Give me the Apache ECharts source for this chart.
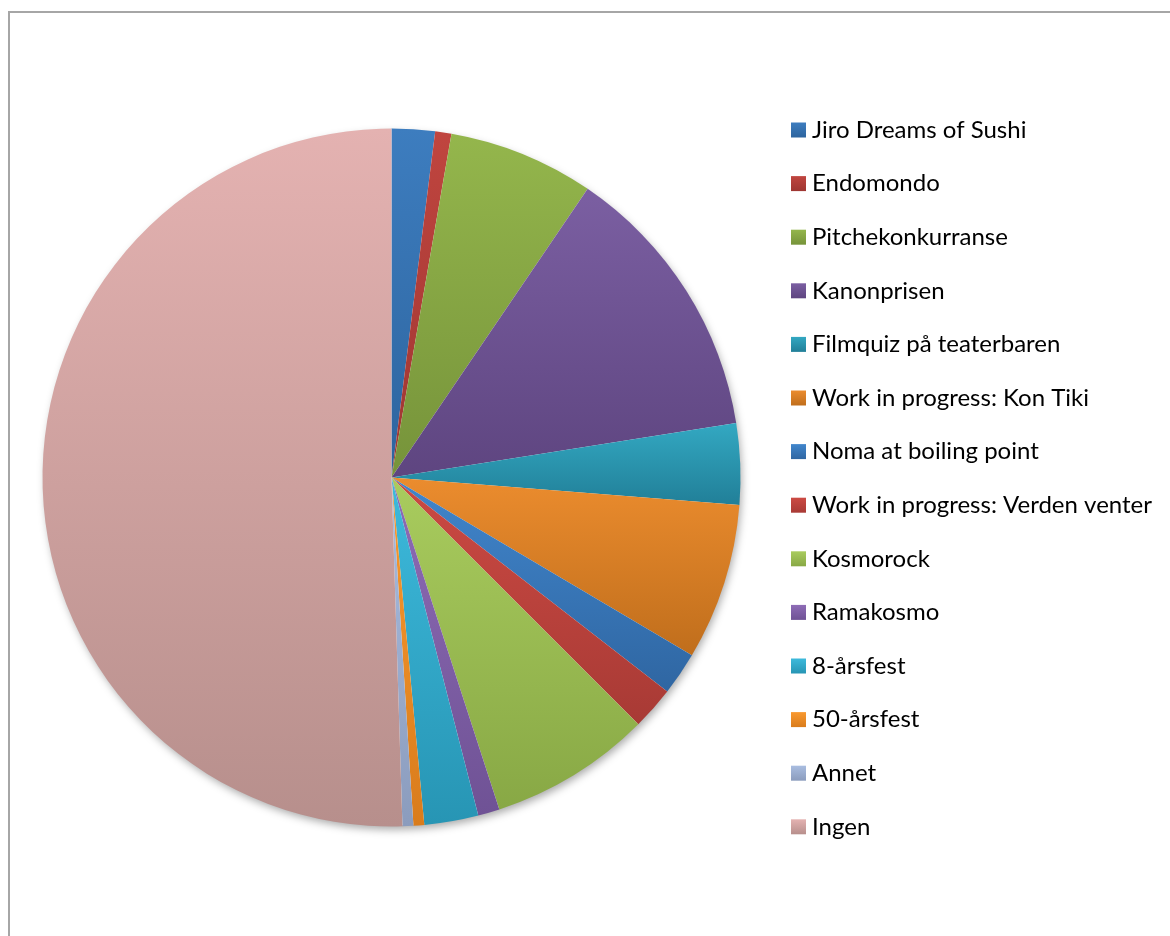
<!DOCTYPE html>
<html>
<head>
<meta charset="utf-8">
<script src="https://cdn.jsdelivr.net/npm/echarts@6/dist/echarts.min.js"></script>
<style>
  html, body { margin: 0; padding: 0; background: #ffffff; }
  #chart { width: 1170px; height: 936px; }
</style>
</head>
<body>
<div id="chart"></div>
<script>
// Event names (legend order, clockwise from 12 o'clock)
const categories = [
  'Jiro Dreams of Sushi',
  'Endomondo',
  'Pitchekonkurranse',
  'Kanonprisen',
  'Filmquiz på teaterbaren',
  'Work in progress: Kon Tiki',
  'Noma at boiling point',
  'Work in progress: Verden venter',
  'Kosmorock',
  'Ramakosmo',
  '8-årsfest',
  '50-årsfest',
  'Annet',
  'Ingen'
];

// Number of answers per event
const values = [8, 3, 27, 52, 15, 29, 8, 8, 30, 4, 10, 2, 2, 202];

// Top / bottom colour of each slice's vertical gradient
const topColors = ['#3d7dbf', '#c0453f', '#94b64c', '#7b5fa2', '#33a8c2', '#eb8c2e', '#4186cc',
                   '#cc4a43', '#a9cc5e', '#8e6cb6', '#3dbadc', '#f9992f', '#a9bde0', '#e4b2b1'];
const bottomColors = ['#2d649e', '#9e3632', '#76933a', '#5e4580', '#217f98', '#c06e1c', '#2f66a2',
                      '#a83a35', '#88a845', '#6f5295', '#2795b4', '#d97c1c', '#8b9cbd', '#b78f8c'];

const chart = echarts.init(document.getElementById('chart'), null, { renderer: 'canvas' });

const pieCenter = [391.5, 477.5];
const pieRadius = 349;

const sliceData = categories.map((name, i) => ({
  name: name,
  value: values[i],
  itemStyle: {
    color: new echarts.graphic.LinearGradient(0, 0, 0, 1, [
      { offset: 0, color: topColors[i] },
      { offset: 1, color: bottomColors[i] }
    ])
  }
}));

chart.setOption({
  animation: false,
  backgroundColor: '#ffffff',
  graphic: [{
    type: 'rect',
    z: -10,
    shape: { x: 9, y: 12, width: 1200, height: 1000 },
    style: { fill: 'none', stroke: '#a6a6a6', lineWidth: 2 }
  }],
  legend: {
    orient: 'vertical',
    left: 786,
    top: 112,
    itemWidth: 15,
    itemHeight: 15,
    itemGap: 27.6,
    icon: 'rect',
    data: categories,
    selectedMode: false,
    textStyle: {
      fontFamily: 'Lato',
      fontSize: 24,
      lineHeight: 26,
      color: '#000000',
      padding: [0, 0, 0, 1]
    }
  },
  series: [
    {
      // soft drop shadow behind the whole disc
      type: 'pie',
      silent: true,
      z: 1,
      center: pieCenter,
      radius: pieRadius - 1,
      label: { show: false },
      labelLine: { show: false },
      legendHoverLink: false,
      data: [{
        name: '_shadow',
        value: 1,
        itemStyle: {
          color: '#ffffff',
          shadowBlur: 8,
          shadowOffsetX: 2,
          shadowOffsetY: 4,
          shadowColor: 'rgba(0,0,0,0.35)'
        }
      }]
    },
    {
      type: 'pie',
      z: 2,
      center: pieCenter,
      radius: pieRadius,
      startAngle: 90,
      clockwise: true,
      avoidLabelOverlap: false,
      label: { show: false },
      labelLine: { show: false },
      itemStyle: { borderWidth: 0 },
      emphasis: { disabled: true },
      data: sliceData
    }
  ]
});
</script>
</body>
</html>
